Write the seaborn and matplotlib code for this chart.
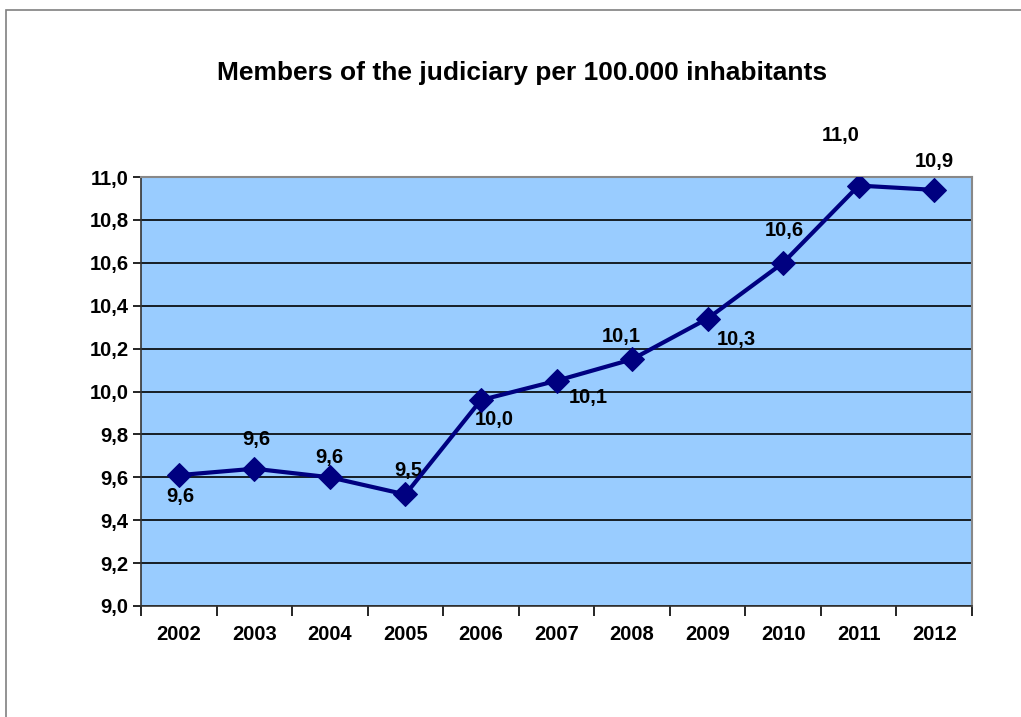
import pandas as pd
import matplotlib.pyplot as plt
import matplotlib.patches as mpatches
import seaborn as sns

# data
years = ['2002', '2003', '2004', '2005', '2006', '2007', '2008', '2009', '2010', '2011', '2012']
values = [9.61, 9.64, 9.60, 9.52, 9.96, 10.05, 10.15, 10.34, 10.60, 10.96, 10.94]
labels = ['9,6', '9,6', '9,6', '9,5', '10,0', '10,1', '10,1', '10,3', '10,6', '11,0', '10,9']
# label offsets in pixels (dx, dy), dy positive = up
offsets = [(2, -21), (2, 29), (-1, 20), (3, 24), (13, -19), (32, -17),
           (-11, 23), (29, -21), (1, 32), (-18, 50), (0, 28)]

df = pd.DataFrame({'Year': years, 'Value': values})

sns.set_style('white')
plt.rcParams['font.family'] = ['Liberation Sans', 'DejaVu Sans']
plt.rcParams['text.color'] = 'black'
plt.rcParams['xtick.color'] = 'black'
plt.rcParams['ytick.color'] = 'black'
plt.rcParams['xtick.labelcolor'] = 'black'
plt.rcParams['ytick.labelcolor'] = 'black'

fig = plt.figure(figsize=(10.21, 7.17), dpi=100)
ax = fig.add_axes([141 / 1021, 1 - 606 / 717, 831 / 1021, 429 / 717])
ax.set_facecolor('#99CCFF')

# outer frame of the chart
fig.patches.append(mpatches.Rectangle((6 / 1021, -0.1), 1.2, (717 - 10) / 717 + 0.1,
                                      transform=fig.transFigure, fill=False,
                                      edgecolor='#808080', linewidth=1.2))

sns.lineplot(data=df, x='Year', y='Value', ax=ax, color='#000080', linewidth=3,
             marker='D', markersize=12, markeredgecolor='#000080', sort=False, zorder=5)

for i, (v, lab, (dx, dy)) in enumerate(zip(values, labels, offsets)):
    ax.annotate(lab, (i, v), xytext=(dx * 0.72, dy * 0.72), textcoords='offset points',
                ha='center', va='center', fontsize=14.5, fontweight='bold',
                color='black', annotation_clip=False)

ax.set_xlim(-0.5, len(years) - 0.5)
ax.set_ylim(9.0, 11.0)
ax.set_yticks([9.0 + 0.2 * k for k in range(11)])
ax.set_yticklabels([f'{9.0 + 0.2 * k:.1f}'.replace('.', ',') for k in range(11)],
                   fontsize=14.5, fontweight='bold')
ax.set_xticks(range(len(years)))
ax.set_xticklabels(years, fontsize=14.5, fontweight='bold')
ax.set_xticks([k - 0.5 for k in range(len(years) + 1)], minor=True)
ax.tick_params(axis='x', which='major', length=0, pad=14, bottom=True)
ax.tick_params(axis='x', which='minor', length=7, width=1.2, color='black',
               direction='out', bottom=True)
ax.tick_params(axis='y', which='major', length=6, width=1.2, color='black',
               direction='out', pad=3, left=True)
ax.yaxis.grid(True, color='black', linewidth=1.2)
ax.set_axisbelow(True)
ax.set_xlabel('')
ax.set_ylabel('')

for side in ['top', 'right']:
    ax.spines[side].set_color('#888888')
    ax.spines[side].set_linewidth(1.5)
for side in ['left', 'bottom']:
    ax.spines[side].set_color('#333333')
    ax.spines[side].set_linewidth(1.2)

fig.text(522 / 1021, 1 - 73 / 717, 'Members of the judiciary per 100.000 inhabitants',
         ha='center', va='center', fontsize=19, fontweight='bold')

fig.savefig('out.png', dpi=100, facecolor='white')
